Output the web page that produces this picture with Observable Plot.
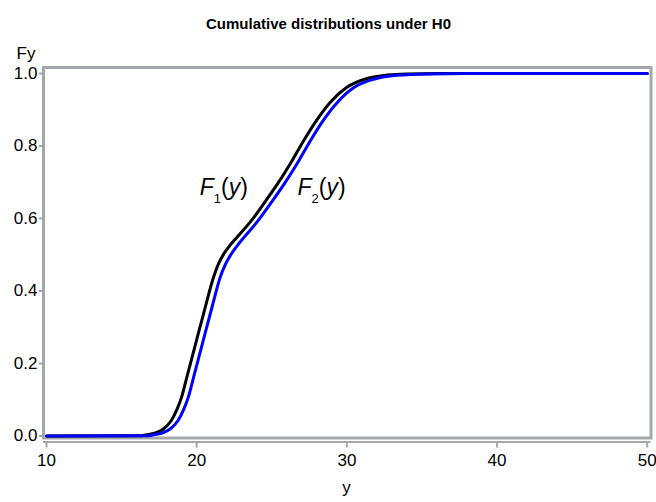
<!DOCTYPE html>
<html><head><meta charset="utf-8">
<script src="https://cdn.jsdelivr.net/npm/d3@7"></script>
<script src="https://cdn.jsdelivr.net/npm/@observablehq/plot@0.6"></script>
<style>body{margin:0;background:#fff} svg{display:block}</style>
</head><body><div id="chart"></div>
<script>
const title = "Cumulative distributions under H0";
const yAxisLabel = "Fy";
const xAxisLabel = "y";
const xTicks = [10, 20, 30, 40, 50];
const yTicks = [0, 0.2, 0.4, 0.6, 0.8, 1.0];

// F1(y) (black)
const f1Y = [10, 16.3, 16.8, 17.3, 17.8, 18.3, 18.7, 19.0, 19.3, 19.7, 20.1, 20.6, 21.1, 21.45, 21.8, 22.2, 22.7, 23.6, 24.5, 25.5, 26.4, 27.2, 27.9, 28.9, 30.0, 31.4, 32.7, 34, 36, 50];
const f1F = [0, 0.001, 0.004, 0.009, 0.02, 0.042, 0.075, 0.108, 0.155, 0.218, 0.282, 0.36, 0.435, 0.475, 0.502, 0.525, 0.549, 0.592, 0.643, 0.703, 0.763, 0.82, 0.866, 0.921, 0.962, 0.987, 0.996, 0.999, 1, 1];
// F2(y) (blue)
const f2Y = [10, 16.75, 17.25, 17.75, 18.25, 18.75, 19.15, 19.45, 19.75, 20.15, 20.55, 21.05, 21.55, 21.92, 22.27, 22.68, 23.15, 24.05, 24.95, 25.95, 26.85, 27.65, 28.35, 29.38, 30.49, 31.85, 33.3, 35.6, 38, 50];
const f2F = [0, 0.001, 0.004, 0.009, 0.02, 0.042, 0.075, 0.108, 0.155, 0.218, 0.282, 0.36, 0.436, 0.474, 0.5, 0.524, 0.548, 0.592, 0.643, 0.703, 0.763, 0.82, 0.866, 0.921, 0.962, 0.985, 0.995, 0.999, 1, 1];

const curveLabels = ["F1(y)", "F2(y)"];
const labelX = [20.2, 26.71];
const labelF = [0.686, 0.686];

const f1 = f1Y.map((y, i) => ({y, F: f1F[i]}));
const f2 = f2Y.map((y, i) => ({y, F: f2F[i]}));
const labels = curveLabels.map((t, i) => ({t, x: labelX[i], F: labelF[i]}));

const gray = "#a3a7ab";
const fontFam = "'Liberation Sans', Arial, Helvetica, sans-serif";
const yMin = -0.0055, yMax = 1.0166;

const plot = Plot.plot({
  width: 656, height: 502,
  marginTop: 67, marginBottom: 64.5, marginLeft: 43, marginRight: 5.5,
  style: {fontFamily: fontFam, fontSize: "17px", color: "#000", background: "#fff", overflow: "visible"},
  x: {domain: [9.8, 50.25]},
  y: {domain: [yMin, yMax]},
  marks: [
    Plot.frame({stroke: gray, strokeWidth: 3}),
    Plot.ruleY([yMin], {stroke: gray, strokeWidth: 2, dy: 4}),
    Plot.axisX(xTicks, {tickSize: 6, dy: 4, tickPadding: 6, stroke: gray, strokeWidth: 2, fill: "#000", label: null, fontSize: 17}),
    Plot.axisY(yTicks, {tickSize: 4, tickPadding: 2, stroke: gray, strokeWidth: 2, fill: "#000", label: null, tickFormat: d3.format(".1f"), fontSize: 17}),
    Plot.line(f1, {x: "y", y: "F", stroke: "#000", strokeWidth: 3, curve: "monotone-x"}),
    Plot.line(f2, {x: "y", y: "F", stroke: "#0000ff", strokeWidth: 3, curve: "monotone-x"}),
    Plot.text(labels, {x: "x", y: "F", text: "t", textAnchor: "start", fontSize: 23, fill: "#000"}),
    Plot.text([title], {text: d => d, frameAnchor: "top", dx: -18.75, dy: -49, fontWeight: "bold", fontSize: 15, fill: "#000"}),
    Plot.text([yAxisLabel], {text: d => d, frameAnchor: "top-left", textAnchor: "start", dx: -27, dy: -21, fontSize: 17, fill: "#000"}),
    Plot.text([xAxisLabel], {text: d => d, frameAnchor: "bottom", dx: -0.75, dy: 54.5, fontSize: 17, fill: "#000"})
  ]
});

d3.select(plot).selectAll("text").filter(function() { return curveLabels.includes(this.textContent); })
  .each(function() {
    const t = this.textContent;
    const sub = t.charAt(1);
    const sel = d3.select(this);
    sel.text(null);
    sel.append("tspan").attr("font-style", "italic").text("F");
    sel.append("tspan").attr("font-size", 13).attr("dy", 8).text(sub);
    sel.append("tspan").attr("dy", -8).text("(");
    sel.append("tspan").attr("font-style", "italic").text("y");
    sel.append("tspan").text(")");
  });

document.getElementById("chart").appendChild(plot);
</script>
</body></html>
